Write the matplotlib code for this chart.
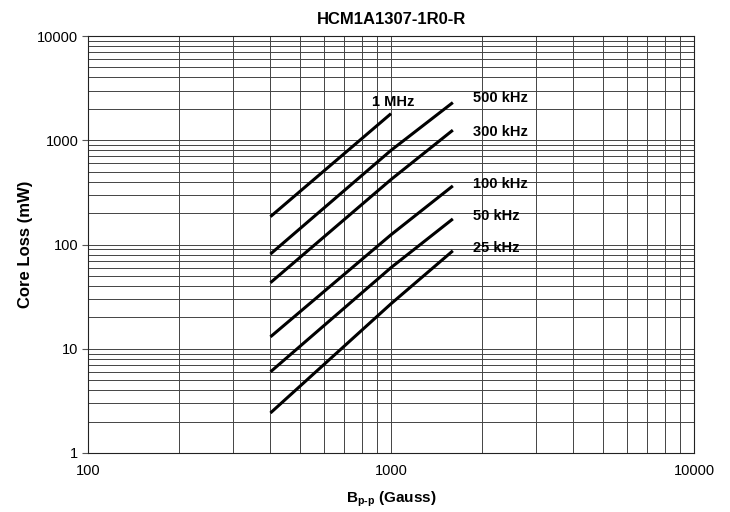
import matplotlib
matplotlib.use("Agg")
import matplotlib.pyplot as plt
from matplotlib.ticker import LogLocator, NullFormatter, FixedLocator

plt.rcParams["font.family"] = ["Liberation Sans", "DejaVu Sans"]
plt.rcParams["mathtext.fontset"] = "custom"
plt.rcParams["mathtext.rm"] = "Liberation Sans:bold"
plt.rcParams["mathtext.bf"] = "Liberation Sans:bold"
plt.rcParams["mathtext.it"] = "Liberation Sans:bold"
plt.rcParams["mathtext.default"] = "bf"

# flux density (Gauss) and core loss (mW) per frequency
series_names = ["1 MHz", "500 kHz", "300 kHz", "100 kHz", "50 kHz", "25 kHz"]
b_1mhz = [400, 1000]
loss_1mhz = [185, 1800]
b_500k = [400, 1000, 1600]
loss_500k = [81, 800, 2300]
b_300k = [400, 1000, 1600]
loss_300k = [43, 420, 1250]
b_100k = [400, 1000, 1600]
loss_100k = [13, 124, 365]
b_50k = [400, 1000, 1600]
loss_50k = [6.0, 60, 176]
b_25k = [400, 1000, 1600]
loss_25k = [2.42, 27, 87]

# label anchor positions (data coords, left edge)
label_x = [865, 1860, 1860, 1860, 1860, 1860]
label_y = [2330, 2520, 1190, 378, 189, 92]

xs = [b_1mhz, b_500k, b_300k, b_100k, b_50k, b_25k]
ys = [loss_1mhz, loss_500k, loss_300k, loss_100k, loss_50k, loss_25k]

fig = plt.figure(figsize=(7.30, 5.12), dpi=100)
ax = fig.add_axes([88 / 730, 59 / 512, 606 / 730, 417 / 512])
ax.set_xscale("log")
ax.set_yscale("log")
ax.set_xlim(100, 10000)
ax.set_ylim(1, 10000)

for x, y in zip(xs, ys):
    ax.plot(x, y, color="black", lw=2.2, solid_capstyle="butt", zorder=3)
for name, tx, ty in zip(series_names, label_x, label_y):
    ax.text(tx, ty, name, fontsize=10.5, fontweight="bold", va="center", ha="left")

ax.xaxis.set_major_locator(FixedLocator([100, 1000, 10000]))
ax.yaxis.set_major_locator(FixedLocator([1, 10, 100, 1000, 10000]))
ax.xaxis.set_major_formatter(plt.FuncFormatter(lambda v, p: f"{v:.0f}"))
ax.yaxis.set_major_formatter(plt.FuncFormatter(lambda v, p: f"{v:.0f}"))
ax.xaxis.set_minor_locator(LogLocator(base=10, subs=range(2, 10)))
ax.yaxis.set_minor_locator(LogLocator(base=10, subs=range(2, 10)))
ax.xaxis.set_minor_formatter(NullFormatter())
ax.yaxis.set_minor_formatter(NullFormatter())
ax.tick_params(axis="x", which="both", length=0, labelsize=10.5, pad=8)
ax.tick_params(axis="y", which="major", length=4, width=0.8, color="#555555", labelsize=10.5, pad=3)
ax.tick_params(axis="y", which="minor", length=0)

ax.grid(True, which="both", color="#444444", lw=0.7)
for s in ax.spines.values():
    s.set_color("#222222")
    s.set_linewidth(0.8)

ax.set_title("HCM1A1307-1R0-R", fontsize=12, fontweight="bold", pad=9)
ax.set_xlabel(r"B$_{p\text{-}p}$ (Gauss)", fontsize=11, fontweight="bold", labelpad=8)
ax.set_ylabel("Core Loss (mW)", fontsize=12, fontweight="bold", labelpad=3)

fig.savefig("out.png", dpi=100)
